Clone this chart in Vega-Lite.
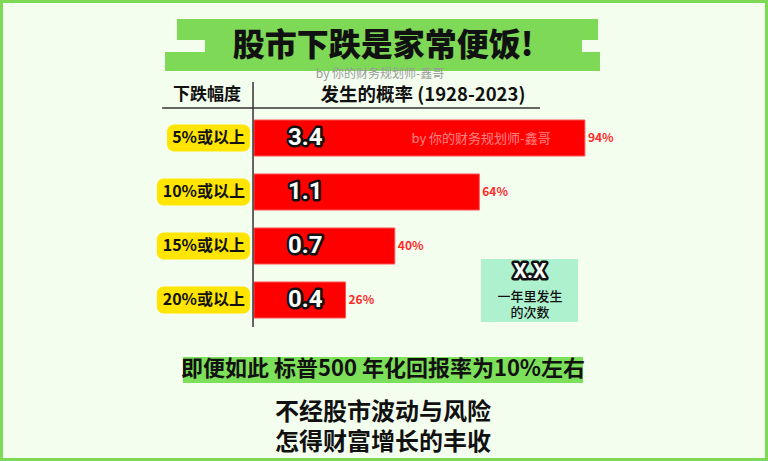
{
  "$schema": "https://vega.github.io/schema/vega-lite/v6.json",
  "width": 768,
  "height": 461,
  "autosize": {"type": "fit", "contains": "padding"},
  "padding": 0,
  "background": "#f3feee",
  "config": {
    "view": {"stroke": "#7ed957", "strokeWidth": 6},
    "axis": {"disable": true},
    "text": {"font": "Noto Sans CJK SC"}
  },
  "datasets": {
    "drops": [
      {"level": "5%或以上", "prob": 0.94, "times": "3.4"},
      {"level": "10%或以上", "prob": 0.64, "times": "1.1"},
      {"level": "15%或以上", "prob": 0.40, "times": "0.7"},
      {"level": "20%或以上", "prob": 0.26, "times": "0.4"}
    ]
  },
  "resolve": {"scale": {"y": "independent"}},
  "layer": [
    {
      "data": {"name": "drops"},
      "encoding": {
        "y": {"field": "level", "type": "nominal", "sort": null, "axis": null,
              "scale": {"range": [120, 318], "paddingInner": 0.3333, "paddingOuter": 0}}
      },
      "layer": [
        {
          "transform": [{"filter": "datum.level === '5%或以上'"}],
          "mark": {"type": "bar", "color": "#ffe500", "cornerRadius": 7, "height": {"band": 0.75}},
          "encoding": {
            "x": {"datum": -0.247, "type": "quantitative", "axis": null, "scale": {"domain": [-0.7216, 1.4602], "nice": false, "zero": false}},
            "x2": {"datum": -0.0114}
          }
        },
        {
          "transform": [{"filter": "datum.level !== '5%或以上'"}],
          "mark": {"type": "bar", "color": "#ffe500", "cornerRadius": 7, "height": {"band": 0.75}},
          "encoding": {
            "x": {"datum": -0.276, "type": "quantitative", "axis": null, "scale": {"domain": [-0.7216, 1.4602], "nice": false, "zero": false}},
            "x2": {"datum": -0.0114}
          }
        },
        {
          "mark": {"type": "text", "align": "right", "baseline": "middle", "fontSize": 16, "fontWeight": "bold", "color": "#111111"},
          "encoding": {
            "x": {"datum": -0.0256, "type": "quantitative", "axis": null, "scale": {"domain": [-0.7216, 1.4602], "nice": false, "zero": false}},
            "text": {"field": "level"}
          }
        },
        {
          "mark": {"type": "bar", "color": "#ff0000", "stroke": "#ff5252", "strokeWidth": 1},
          "encoding": {
            "x": {"field": "prob", "type": "quantitative", "axis": null, "scale": {"domain": [-0.7216, 1.4602], "nice": false, "zero": false}},
            "x2": {"datum": 0}
          }
        },
        {
          "mark": {"type": "text", "align": "left", "baseline": "middle", "dx": 3, "fontSize": 12, "fontWeight": "bold", "color": "#ff2b2b"},
          "encoding": {
            "x": {"field": "prob", "type": "quantitative", "axis": null, "scale": {"domain": [-0.7216, 1.4602], "nice": false, "zero": false}},
            "text": {"field": "prob", "type": "quantitative", "format": ".0%"}
          }
        },
        {
          "mark": {"type": "text", "align": "left", "baseline": "middle", "fontSize": 24, "fontWeight": "bold", "font": "Roboto", "color": "#111111", "stroke": "#111111", "strokeWidth": 5, "strokeJoin": "round"},
          "encoding": {
            "x": {"datum": 0.0966, "type": "quantitative", "axis": null, "scale": {"domain": [-0.7216, 1.4602], "nice": false, "zero": false}},
            "text": {"field": "times"}
          }
        },
        {
          "mark": {"type": "text", "align": "left", "baseline": "middle", "fontSize": 24, "fontWeight": "bold", "font": "Roboto", "color": "#ffffff"},
          "encoding": {
            "x": {"datum": 0.0966, "type": "quantitative", "axis": null, "scale": {"domain": [-0.7216, 1.4602], "nice": false, "zero": false}},
            "text": {"field": "times"}
          }
        }
      ]
    },
    {
      "data": {"values": [{}]},
      "layer": [
        {
          "mark": {"type": "rect", "color": "#7ed957"},
          "encoding": {
            "x": {"datum": -0.2188, "type": "quantitative", "axis": null, "scale": {"domain": [-0.7216, 1.4602], "nice": false, "zero": false}},
            "x2": {"datum": 0.9773},
            "y": {"datum": -1.1944, "type": "quantitative", "axis": null, "scale": {"domain": [-1.5463, 6.9907], "nice": false, "zero": false, "reverse": true}},
            "y2": {"datum": -0.8056}
          }
        },
        {
          "mark": {"type": "rect", "color": "#7ed957"},
          "encoding": {
            "x": {"datum": -0.1392, "type": "quantitative", "axis": null, "scale": {"domain": [-0.7216, 1.4602], "nice": false, "zero": false}},
            "x2": {"datum": 0.9318},
            "y": {"datum": -0.8056, "type": "quantitative", "axis": null, "scale": {"domain": [-1.5463, 6.9907], "nice": false, "zero": false, "reverse": true}},
            "y2": {"datum": -0.5833}
          }
        },
        {
          "mark": {"type": "rect", "color": "#7ed957"},
          "encoding": {
            "x": {"datum": -0.2528, "type": "quantitative", "axis": null, "scale": {"domain": [-0.7216, 1.4602], "nice": false, "zero": false}},
            "x2": {"datum": 0.983},
            "y": {"datum": -0.5833, "type": "quantitative", "axis": null, "scale": {"domain": [-1.5463, 6.9907], "nice": false, "zero": false, "reverse": true}},
            "y2": {"datum": -0.2315}
          }
        },
        {
          "mark": {"type": "text", "align": "center", "baseline": "middle", "fontSize": 32, "fontWeight": 900, "color": "#111111", "text": "股市下跌是家常便饭!"},
          "encoding": {
            "x": {"datum": 0.3665, "type": "quantitative", "axis": null, "scale": {"domain": [-0.7216, 1.4602], "nice": false, "zero": false}},
            "y": {"datum": -0.686, "type": "quantitative", "axis": null, "scale": {"domain": [-1.5463, 6.9907], "nice": false, "zero": false, "reverse": true}}
          }
        },
        {
          "mark": {"type": "text", "align": "center", "baseline": "middle", "fontSize": 12, "color": "#9a9a9a", "text": "by  你的财务规划师-鑫哥"},
          "encoding": {
            "x": {"datum": 0.358, "type": "quantitative", "axis": null, "scale": {"domain": [-0.7216, 1.4602], "nice": false, "zero": false}},
            "y": {"datum": -0.176, "type": "quantitative", "axis": null, "scale": {"domain": [-1.5463, 6.9907], "nice": false, "zero": false, "reverse": true}}
          }
        },
        {
          "mark": {"type": "text", "align": "center", "baseline": "middle", "fontSize": 17, "fontWeight": "bold", "color": "#111111", "text": "下跌幅度"},
          "encoding": {
            "x": {"datum": -0.1335, "type": "quantitative", "axis": null, "scale": {"domain": [-0.7216, 1.4602], "nice": false, "zero": false}},
            "y": {"datum": 0.222, "type": "quantitative", "axis": null, "scale": {"domain": [-1.5463, 6.9907], "nice": false, "zero": false, "reverse": true}}
          }
        },
        {
          "mark": {"type": "text", "align": "center", "baseline": "middle", "fontSize": 18.5, "fontWeight": "bold", "color": "#111111", "text": "发生的概率 (1928-2023)"},
          "encoding": {
            "x": {"datum": 0.48, "type": "quantitative", "axis": null, "scale": {"domain": [-0.7216, 1.4602], "nice": false, "zero": false}},
            "y": {"datum": 0.222, "type": "quantitative", "axis": null, "scale": {"domain": [-1.5463, 6.9907], "nice": false, "zero": false, "reverse": true}}
          }
        },
        {
          "mark": {"type": "rule", "color": "#333333", "strokeWidth": 1.5},
          "encoding": {
            "x": {"datum": -0.261, "type": "quantitative", "axis": null, "scale": {"domain": [-0.7216, 1.4602], "nice": false, "zero": false}},
            "x2": {"datum": 0.8125},
            "y": {"datum": 0.454, "type": "quantitative", "axis": null, "scale": {"domain": [-1.5463, 6.9907], "nice": false, "zero": false, "reverse": true}}
          }
        },
        {
          "mark": {"type": "rule", "color": "#333333", "strokeWidth": 1.5},
          "encoding": {
            "x": {"datum": -0.0028, "type": "quantitative", "axis": null, "scale": {"domain": [-0.7216, 1.4602], "nice": false, "zero": false}},
            "y": {"datum": -0.028, "type": "quantitative", "axis": null, "scale": {"domain": [-1.5463, 6.9907], "nice": false, "zero": false, "reverse": true}},
            "y2": {"datum": 4.509}
          }
        },
        {
          "mark": {"type": "text", "align": "center", "baseline": "middle", "fontSize": 13, "color": "#ffffff", "opacity": 0.5, "text": "by  你的财务规划师-鑫哥"},
          "encoding": {
            "x": {"datum": 0.645, "type": "quantitative", "axis": null, "scale": {"domain": [-0.7216, 1.4602], "nice": false, "zero": false}},
            "y": {"datum": 1.028, "type": "quantitative", "axis": null, "scale": {"domain": [-1.5463, 6.9907], "nice": false, "zero": false, "reverse": true}}
          }
        },
        {
          "mark": {"type": "rect", "color": "#aef1cf"},
          "encoding": {
            "x": {"datum": 0.645, "type": "quantitative", "axis": null, "scale": {"domain": [-0.7216, 1.4602], "nice": false, "zero": false}},
            "x2": {"datum": 0.9205},
            "y": {"datum": 3.25, "type": "quantitative", "axis": null, "scale": {"domain": [-1.5463, 6.9907], "nice": false, "zero": false, "reverse": true}},
            "y2": {"datum": 4.417}
          }
        },
        {
          "mark": {"type": "text", "align": "center", "baseline": "middle", "fontSize": 21, "fontWeight": "bold", "font": "Roboto", "color": "#111111", "stroke": "#111111", "strokeWidth": 5, "strokeJoin": "round", "text": "X.X"},
          "encoding": {
            "x": {"datum": 0.784, "type": "quantitative", "axis": null, "scale": {"domain": [-0.7216, 1.4602], "nice": false, "zero": false}},
            "y": {"datum": 3.491, "type": "quantitative", "axis": null, "scale": {"domain": [-1.5463, 6.9907], "nice": false, "zero": false, "reverse": true}}
          }
        },
        {
          "mark": {"type": "text", "align": "center", "baseline": "middle", "fontSize": 21, "fontWeight": "bold", "font": "Roboto", "color": "#ffffff", "text": "X.X"},
          "encoding": {
            "x": {"datum": 0.784, "type": "quantitative", "axis": null, "scale": {"domain": [-0.7216, 1.4602], "nice": false, "zero": false}},
            "y": {"datum": 3.491, "type": "quantitative", "axis": null, "scale": {"domain": [-1.5463, 6.9907], "nice": false, "zero": false, "reverse": true}}
          }
        },
        {
          "mark": {"type": "text", "align": "center", "baseline": "middle", "fontSize": 13, "fontWeight": 500, "color": "#111111", "text": "一年里发生"},
          "encoding": {
            "x": {"datum": 0.784, "type": "quantitative", "axis": null, "scale": {"domain": [-0.7216, 1.4602], "nice": false, "zero": false}},
            "y": {"datum": 3.945, "type": "quantitative", "axis": null, "scale": {"domain": [-1.5463, 6.9907], "nice": false, "zero": false, "reverse": true}}
          }
        },
        {
          "mark": {"type": "text", "align": "center", "baseline": "middle", "fontSize": 13, "fontWeight": 500, "color": "#111111", "text": "的次数"},
          "encoding": {
            "x": {"datum": 0.784, "type": "quantitative", "axis": null, "scale": {"domain": [-0.7216, 1.4602], "nice": false, "zero": false}},
            "y": {"datum": 4.25, "type": "quantitative", "axis": null, "scale": {"domain": [-1.5463, 6.9907], "nice": false, "zero": false, "reverse": true}}
          }
        },
        {
          "mark": {"type": "rect", "color": "#7de05a"},
          "encoding": {
            "x": {"datum": -0.2017, "type": "quantitative", "axis": null, "scale": {"domain": [-0.7216, 1.4602], "nice": false, "zero": false}},
            "x2": {"datum": 0.9347},
            "y": {"datum": 5.065, "type": "quantitative", "axis": null, "scale": {"domain": [-1.5463, 6.9907], "nice": false, "zero": false, "reverse": true}},
            "y2": {"datum": 5.546}
          }
        },
        {
          "mark": {"type": "text", "align": "center", "baseline": "middle", "fontSize": 22, "fontWeight": "bold", "color": "#111111", "text": "即便如此 标普500 年化回报率为10%左右"},
          "encoding": {
            "x": {"datum": 0.3665, "type": "quantitative", "axis": null, "scale": {"domain": [-0.7216, 1.4602], "nice": false, "zero": false}},
            "y": {"datum": 5.287, "type": "quantitative", "axis": null, "scale": {"domain": [-1.5463, 6.9907], "nice": false, "zero": false, "reverse": true}}
          }
        },
        {
          "mark": {"type": "text", "align": "center", "baseline": "middle", "fontSize": 24, "fontWeight": "bold", "color": "#111111", "text": "不经股市波动与风险"},
          "encoding": {
            "x": {"datum": 0.3665, "type": "quantitative", "axis": null, "scale": {"domain": [-0.7216, 1.4602], "nice": false, "zero": false}},
            "y": {"datum": 6.11, "type": "quantitative", "axis": null, "scale": {"domain": [-1.5463, 6.9907], "nice": false, "zero": false, "reverse": true}}
          }
        },
        {
          "mark": {"type": "text", "align": "center", "baseline": "middle", "fontSize": 24, "fontWeight": "bold", "color": "#111111", "text": "怎得财富增长的丰收"},
          "encoding": {
            "x": {"datum": 0.3665, "type": "quantitative", "axis": null, "scale": {"domain": [-0.7216, 1.4602], "nice": false, "zero": false}},
            "y": {"datum": 6.649, "type": "quantitative", "axis": null, "scale": {"domain": [-1.5463, 6.9907], "nice": false, "zero": false, "reverse": true}}
          }
        }
      ]
    }
  ]
}
